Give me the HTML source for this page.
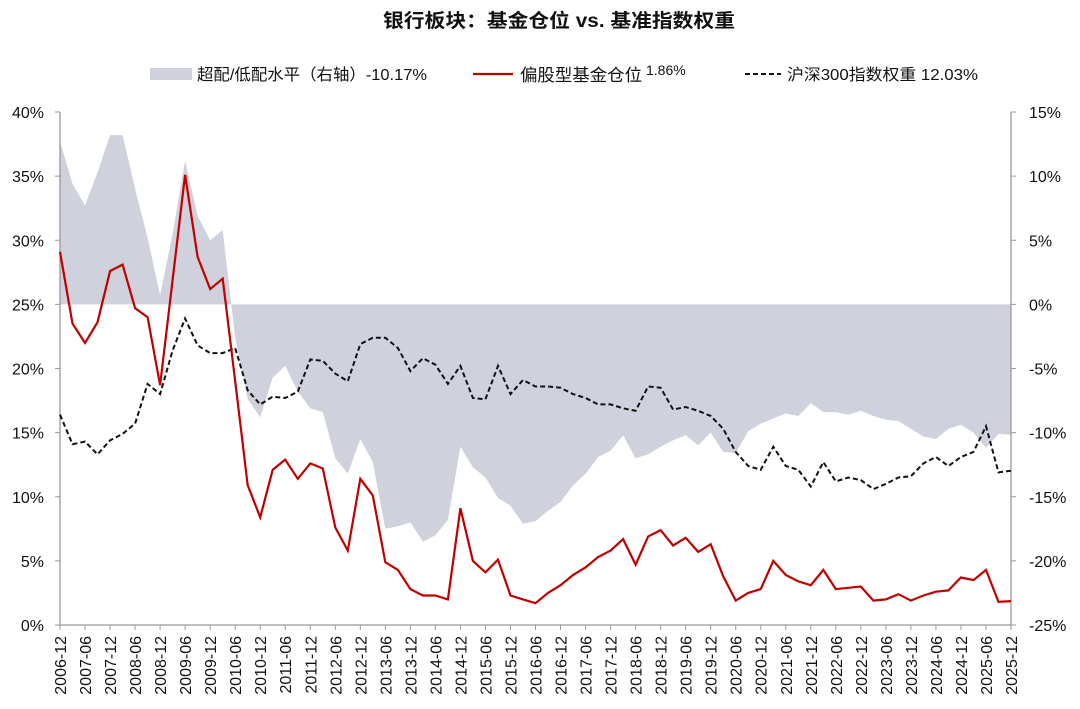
<!DOCTYPE html>
<html><head><meta charset="utf-8"><style>
html,body{margin:0;padding:0;background:#fff;}
body{width:1080px;height:704px;overflow:hidden;font-family:"Liberation Sans","Noto Sans CJK SC",sans-serif;}
</style></head><body>
<svg id="s" width="1080" height="704" xmlns="http://www.w3.org/2000/svg" font-family="Liberation Sans, Noto Sans CJK SC, sans-serif">
<text x="383" y="27" textLength="352" lengthAdjust="spacingAndGlyphs" font-size="19" font-weight="bold" fill="#111">银行板块：基金仓位 vs. 基准指数权重</text>
<rect x="150" y="68" width="42" height="12" fill="#cfd1dc"/>
<text x="197" y="80" textLength="230" lengthAdjust="spacingAndGlyphs" font-size="16" fill="#111">超配/低配水平（右轴）-10.17%</text>
<line x1="473" y1="74" x2="513" y2="74" stroke="#c00000" stroke-width="2.2"/>
<text x="520" y="81" textLength="122" lengthAdjust="spacingAndGlyphs" font-size="17" fill="#111">偏股型基金仓位</text>
<text x="646" y="75" font-size="14" fill="#111">1.86%</text>
<line x1="745" y1="74" x2="781" y2="74" stroke="#111" stroke-width="2" stroke-dasharray="5,3"/>
<text x="787" y="80" textLength="191" lengthAdjust="spacingAndGlyphs" font-size="16" fill="#111">沪深300指数权重  12.03%</text>
<g id="g"></g>
</svg>
<script>
var red=[29.1,23.5,22.0,23.6,27.6,28.1,24.7,24.0,18.7,26.9,35.1,28.7,26.2,27.0,19.0,10.9,8.4,12.1,12.9,11.4,12.6,12.2,7.6,5.8,11.4,10.1,4.9,4.3,2.8,2.3,2.3,2.0,9.1,5.0,4.1,5.1,2.3,2.0,1.7,2.5,3.1,3.9,4.5,5.3,5.8,6.7,4.7,6.9,7.4,6.2,6.8,5.7,6.3,3.8,1.9,2.5,2.8,5.0,3.9,3.4,3.1,4.3,2.8,2.9,3.0,1.9,2.0,2.4,1.9,2.3,2.6,2.7,3.7,3.5,4.3,1.8,1.86];
var blk=[16.4,14.1,14.3,13.3,14.4,14.9,15.7,18.8,18.0,21.4,23.9,21.8,21.2,21.2,21.6,18.3,17.2,17.8,17.7,18.2,20.7,20.6,19.6,19.0,21.9,22.4,22.4,21.6,19.8,20.8,20.3,18.8,20.2,17.7,17.6,20.2,18.0,19.1,18.6,18.6,18.5,18.0,17.7,17.2,17.2,16.9,16.7,18.6,18.5,16.8,17.0,16.7,16.3,15.3,13.5,12.4,12.1,13.9,12.4,12.1,10.8,12.7,11.2,11.5,11.3,10.6,11.0,11.5,11.6,12.6,13.1,12.4,13.1,13.5,15.5,11.9,12.03];
var L=60,R=1011,T=112,B=625,n=77,dx=(R-L)/(n-1);
function X(i){return L+dx*i;}
function Y(v){return T+(40-v)*(B-T)/40;}
var h='';
var y0=Y(25),pa='M'+X(0)+','+y0;
for(var i=0;i<n;i++){pa+=' L'+X(i).toFixed(1)+','+Y(25+red[i]-blk[i]).toFixed(1);}
pa+=' L'+X(n-1)+','+y0+' Z';
h+='<path d="'+pa+'" fill="#cfd1dc"/>';
h+='<line x1="'+L+'" y1="'+T+'" x2="'+L+'" y2="'+B+'" stroke="#999" stroke-width="1.3"/>';
h+='<line x1="'+R+'" y1="'+T+'" x2="'+R+'" y2="'+B+'" stroke="#999" stroke-width="1.3"/>';
h+='<line x1="'+L+'" y1="'+B+'" x2="'+R+'" y2="'+B+'" stroke="#999" stroke-width="1.3"/>';
for(var k=0;k<=8;k++){var yy=T+k*(B-T)/8;
h+='<line x1="'+(L-5)+'" y1="'+yy+'" x2="'+L+'" y2="'+yy+'" stroke="#999"/>';
h+='<line x1="'+R+'" y1="'+yy+'" x2="'+(R+5)+'" y2="'+yy+'" stroke="#999"/>';
h+='<text x="44" y="'+(yy+6)+'" text-anchor="end" font-size="16" fill="#111">'+(40-5*k)+'%</text>';
h+='<text x="1029" y="'+(yy+6)+'" font-size="16" fill="#111">'+(15-5*k)+'%</text>';}
for(var i=0;i<n;i+=2){var xx=X(i);var yr=2006+Math.floor((i+2)/4);var m=(i%4==0)?'12':'06';
if(i==0)yr=2006;
h+='<line x1="'+xx+'" y1="'+B+'" x2="'+xx+'" y2="'+(B+5)+'" stroke="#999"/>';
h+='<text transform="translate('+(xx+6)+',636) rotate(-90)" text-anchor="end" font-size="16" fill="#111">'+yr+'-'+m+'</text>';}
function line(a){var p='';for(var i=0;i<n;i++){p+=(i?' L':'M')+X(i).toFixed(1)+','+Y(a[i]).toFixed(1);}return p;}
h+='<path d="'+line(blk)+'" fill="none" stroke="#111" stroke-width="2" stroke-dasharray="5,3"/>';
h+='<path d="'+line(red)+'" fill="none" stroke="#c00000" stroke-width="2.2"/>';
document.getElementById('g').innerHTML=h;
</script>
</body></html>
